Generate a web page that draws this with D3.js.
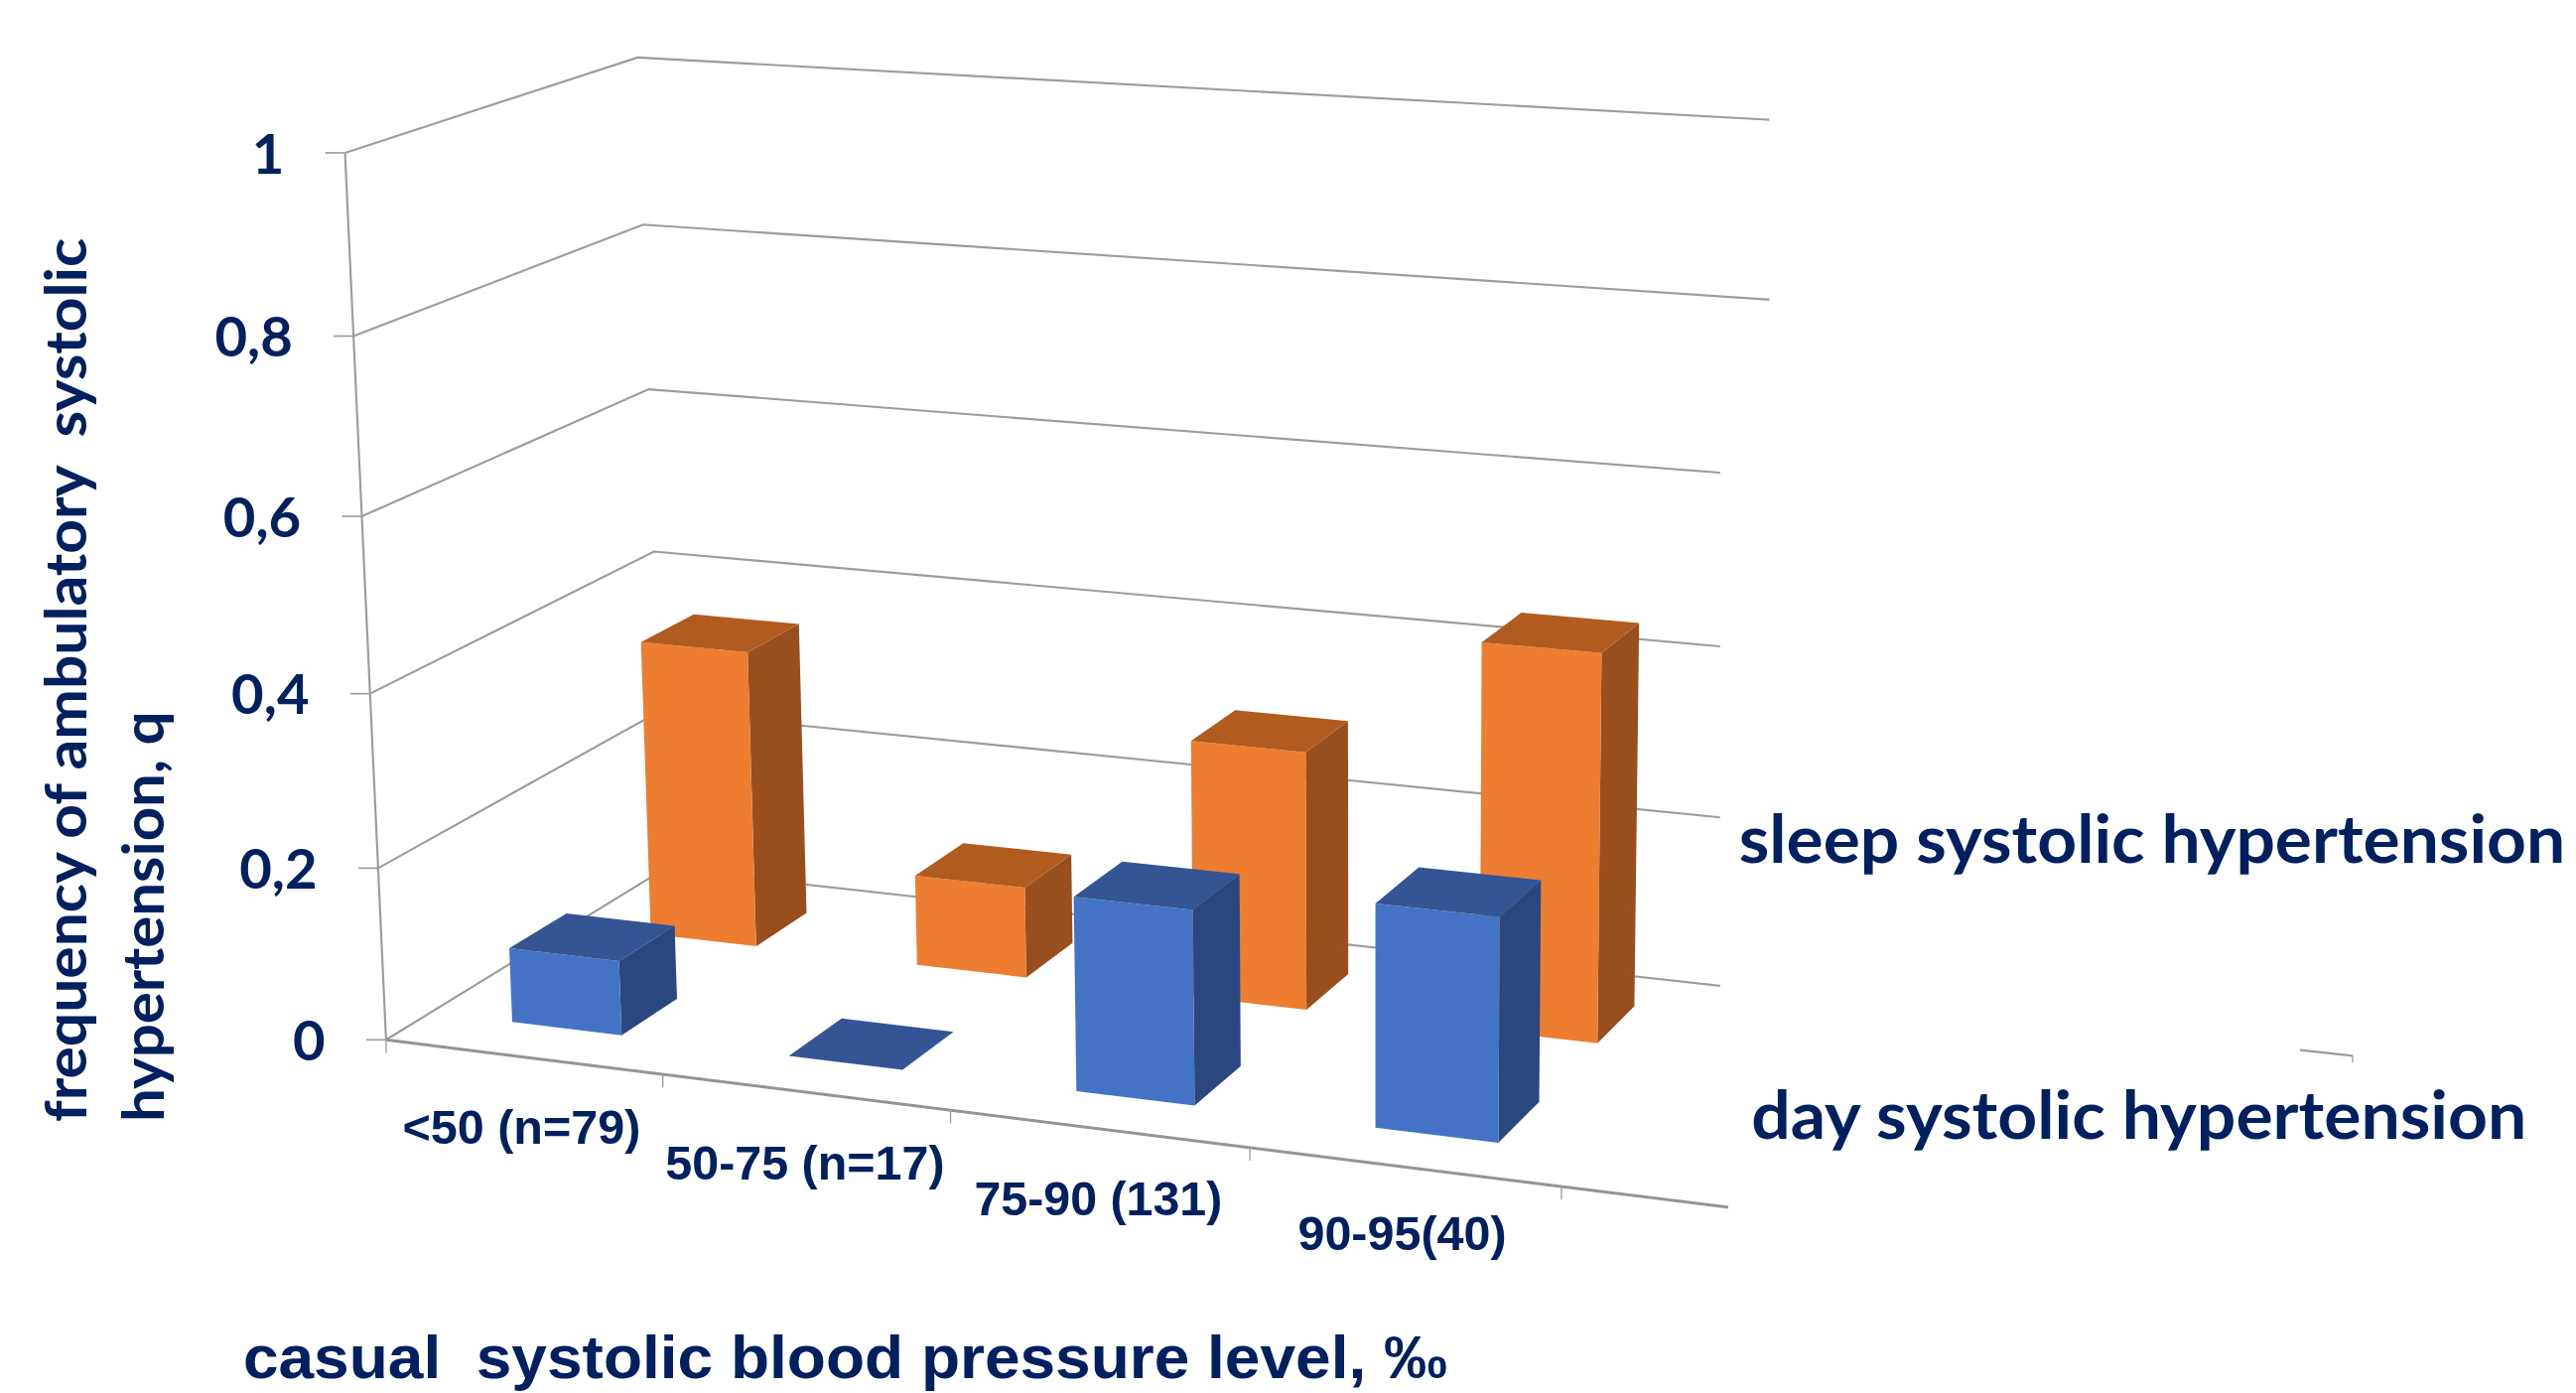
<!DOCTYPE html>
<html>
<head>
<meta charset="utf-8">
<style>
  body { margin: 0; background: #fff; }
  svg { display: block; }
  text { fill: #002060; font-weight: 700; white-space: pre; }
</style>
</head>
<body>
<div id="chart"></div>
<script src="https://cdn.jsdelivr.net/npm/d3@7"></script>
<script>
const categories = ['<50 (n=79)', '50-75 (n=17)', '75-90 (131)', '90-95(40)'];
const hiddenSlots = ['slot5', 'slot6']; // the source chart has two more categories, blanked out
const seriesNames = ['day systolic hypertension', 'sleep systolic hypertension'];
const dayValues = [0.087, 0, 0.22, 0.249];
const sleepValues = [0.356, 0.108, 0.302, 0.447];
const yTicks = [0, 0.2, 0.4, 0.6, 0.8, 1];
const yTickLabels = ['0', '0,2', '0,4', '0,6', '0,8', '1'];
const yTitleLines = ['frequency of ambulatory  systolic', 'hypertension, q'];
const xTitle = 'casual  systolic blood pressure level, ‰';

const W = 1568, H = 848;
const svg = d3.select('#chart').append('svg')
  .attr('width', 2595).attr('height', 1403)
  .attr('viewBox', `0 0 ${W} ${H}`)
  .attr('preserveAspectRatio', 'none');

// Chart space: x in category steps, z 0 (front) to 1 (back), y 0..1
const slots = categories.concat(hiddenSlots);
const x = d3.scaleBand().domain(slots).range([0, slots.length]).paddingInner(0.6).paddingOuter(0.3);
const z = d3.scaleBand().domain(seriesNames).range([0, 1]).paddingInner(0.6).paddingOuter(0.3);
const y = d3.scaleLinear().domain([0, 1]).range([0, 1]);

// Perspective of the original 3D column chart, fitted to the picture
function project(px, py, pz) {
  const w = 1 - 0.019 * px - 0.04 * py + 0.0978 * pz;
  return [
    (235 + 160.8 * px - 33.4 * py + 209 * pz) / w,
    (633 + 8.6 * px - 543.7 * py - 52.3 * pz) / w
  ];
}
const line = d3.line();
const poly = pts => line(pts.map(p => project(...p))) + 'Z';

const axisColor = '#9c9c9c';
const axes = svg.append('g').attr('fill', 'none').attr('stroke', axisColor);

// Gridlines on side wall and back wall
yTicks.forEach(t => {
  axes.append('path')
    .attr('stroke-width', 1.3)
    .attr('d', line([project(0, y(t), 0), project(0, y(t), 1), project(slots.length, y(t), 1)]));
  const p = project(0, y(t), 0);
  axes.append('line')
    .attr('x1', p[0] - 12).attr('x2', p[0])
    .attr('y1', p[1]).attr('y2', p[1])
    .attr('stroke-width', 1);
});

// Vertical axis and category axis
axes.append('path').attr('stroke-width', 1.3)
  .attr('d', line([project(0, y(1), 0), project(0, y(0), 0)]));
axes.append('path').attr('stroke-width', 1.8).attr('stroke', '#949494')
  .attr('d', line([project(0, 0, 0), project(slots.length, 0, 0)]));
d3.range(slots.length + 1).forEach(i => {
  const p = project(i, 0, 0);
  axes.append('line')
    .attr('x1', p[0]).attr('x2', p[0])
    .attr('y1', p[1]).attr('y2', p[1] + 8)
    .attr('stroke-width', 0.8);
});
const endTick = project(slots.length, 0, 1);
axes.append('line')
  .attr('x1', endTick[0]).attr('x2', endTick[0])
  .attr('y1', endTick[1]).attr('y2', endTick[1] + 4)
  .attr('stroke-width', 0.8);

// White boxes pasted over the right part of the chart in the source
const masks = [
  [1077, 0, W - 1077, 240],
  [1047, 240, W - 1047, 392],
  [1047, 625, 353, 30],
  [1052, 650, W - 1052, H - 650]
];
svg.append('g').selectAll('rect').data(masks).enter().append('rect')
  .attr('x', d => d[0]).attr('y', d => d[1])
  .attr('width', d => d[2]).attr('height', d => d[3])
  .attr('fill', '#fff');

// Bars, back row first
const rows = [
  { name: seriesNames[1], values: sleepValues, front: '#ed7d31', top: '#b25b20', side: '#994f1d' },
  { name: seriesNames[0], values: dayValues, front: '#4472c4', top: '#335593', side: '#2a4780' }
];
rows.forEach(row => {
  const g = svg.append('g');
  const z0 = z(row.name), z1 = z0 + z.bandwidth();
  categories.forEach((c, i) => {
    const x0 = x(c), x1 = x0 + x.bandwidth(), h = y(row.values[i]);
    if (h > 0) {
      g.append('path').attr('fill', row.side)
        .attr('d', poly([[x1, 0, z0], [x1, 0, z1], [x1, h, z1], [x1, h, z0]]));
      g.append('path').attr('fill', row.front)
        .attr('d', poly([[x0, 0, z0], [x1, 0, z0], [x1, h, z0], [x0, h, z0]]));
    }
    g.append('path').attr('fill', row.top)
      .attr('d', poly([[x0, h, z0], [x1, h, z0], [x1, h, z1], [x0, h, z1]]));
  });
});

const calibriLike = 'Lato, "Noto Sans", sans-serif';
const arialLike = '"Liberation Sans", Arial, sans-serif';

// Value tick labels
yTicks.forEach((t, i) => {
  const p = project(0, y(t), 0);
  svg.append('text')
    .attr('x', p[0] - 37).attr('y', p[1] + 12.5)
    .attr('text-anchor', 'end')
    .attr('font-family', calibriLike).attr('font-size', 34)
    .text(yTickLabels[i]);
});

// Category labels
const catLabelPos = [[245, 696, 145], [405, 718, 170], [593, 740, 151], [790, 761, 127]];
categories.forEach((c, i) => {
  svg.append('text')
    .attr('x', catLabelPos[i][0]).attr('y', catLabelPos[i][1])
    .attr('textLength', catLabelPos[i][2]).attr('lengthAdjust', 'spacingAndGlyphs')
    .attr('font-family', arialLike).attr('font-size', 29)
    .text(c);
});

// Axis titles
svg.append('text')
  .attr('x', 148).attr('y', 839)
  .attr('textLength', 733).attr('lengthAdjust', 'spacingAndGlyphs')
  .attr('font-family', arialLike).attr('font-size', 37)
  .text(xTitle);

[[52.5, 538], [100, 250]].forEach((d, i) => {
  svg.append('text')
    .attr('transform', `translate(${d[0]},683) rotate(-90)`)
    .attr('textLength', d[1]).attr('lengthAdjust', 'spacingAndGlyphs')
    .attr('font-family', calibriLike).attr('font-size', 35)
    .text(yTitleLines[i]);
});

// Series names
svg.append('text')
  .attr('x', 1058.5).attr('y', 525)
  .attr('textLength', 503).attr('lengthAdjust', 'spacingAndGlyphs')
  .attr('font-family', calibriLike).attr('font-size', 40)
  .text(seriesNames[1]);
svg.append('text')
  .attr('x', 1066).attr('y', 693.5)
  .attr('textLength', 472).attr('lengthAdjust', 'spacingAndGlyphs')
  .attr('font-family', calibriLike).attr('font-size', 40)
  .text(seriesNames[0]);
</script>
</body>
</html>
